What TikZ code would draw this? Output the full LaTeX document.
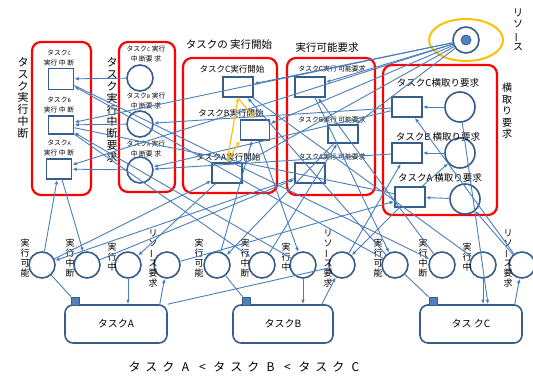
\documentclass[tikz,border=0pt]{standalone}
\usepackage{fontspec}
\setmainfont{Noto Sans CJK JP}
\usetikzlibrary{arrows.meta}
\definecolor{lnblue}{RGB}{74,126,187}
\definecolor{ndblue}{RGB}{56,93,138}
\definecolor{dotblue}{RGB}{79,129,189}
\definecolor{orng}{RGB}{255,192,0}
\newcommand{\myvbar}{\rotatebox[origin=c]{90}{ー}}
\newcommand{\ochar}[1]{\makebox[17pt]{#1}}
\begin{document}
\begin{tikzpicture}[x=1pt,y=-1pt,
  grp/.style={draw=red,line width=2.2pt,rounded corners=9pt},
  sq/.style={draw=ndblue,line width=1.6pt,minimum width=30pt,minimum height=20pt,inner sep=0pt},
  pl/.style={circle,draw=ndblue,line width=1.6pt,minimum size=26pt,inner sep=0pt},
  bigpl/.style={circle,draw=ndblue,line width=1.6pt,minimum size=30pt,inner sep=0pt},
  task/.style={draw=ndblue,line width=1.6pt,rounded corners=8pt,minimum width=102pt,minimum height=38pt,font=\fontsize{10}{12}\selectfont},
  smsq/.style={draw=ndblue,fill=dotblue,line width=0.8pt,minimum width=8pt,minimum height=8pt,inner sep=0pt},
  arc/.style={draw=lnblue,line width=0.9pt,-{Latex[length=4.5pt,width=3.6pt]}},
  ln/.style={draw=lnblue,line width=0.9pt},
  oarc/.style={draw=orng,line width=1.1pt,-{Latex[length=4.5pt,width=3.6pt]}},
  lblS/.style={font=\fontsize{6.8}{9.5}\selectfont,inner sep=0pt,align=center},
  lblM/.style={font=\fontsize{8.5}{10}\selectfont,inner sep=0pt,align=center},
  lblL/.style={font=\fontsize{9.5}{11}\selectfont,inner sep=0pt,align=center},
  ttl/.style={font=\fontsize{10.5}{12}\selectfont,inner sep=0pt,align=center},
  vbig/.style={font=\fontsize{11}{11.9}\selectfont,inner sep=0pt,align=center},
  vmid/.style={font=\fontsize{10}{11.5}\selectfont,inner sep=0pt,align=center},
  vsm/.style={font=\fontsize{9}{10}\selectfont,inner sep=0pt,align=center}
]
\useasboundingbox (0,0) rectangle (533,378);

% groups
\draw[grp] (32,42) rectangle (91,195);
\draw[grp] (119,42) rectangle (175,192);
\draw[grp] (183,58) rectangle (277,193);
\draw[grp] (287,58) rectangle (375,195);
\draw[grp] (383,65) rectangle (497,215);
\draw[draw=orng,line width=2pt] (466,40) ellipse (37pt and 21pt);

% group labels
\node[vbig] (g1t) at (23,98) {タ\\ス\\ク\\実\\行\\中\\断};
\node[vbig] (g2t) at (112,110) {タ\\ス\\ク\\実\\行\\中\\断\\要\\求};
\node[ttl] (g3t) at (229,45) {タスクの 実行開始};
\node[ttl] (g4t) at (327,48) {実行可能要求};
\node[vmid] (g5t) at (507,111) {横\\取\\り\\要\\求};
\node[vmid] (rest) at (518,30) {リ\\ソ\\\myvbar\\ス};

% group 1 : suspend transitions
\node[sq,minimum width=25pt,minimum height=21pt] (s1C) at (61,79) {};
\node[sq,minimum width=25pt,minimum height=18pt] (s1B) at (61,125) {};
\node[sq,minimum width=25pt,minimum height=20pt] (s1A) at (59,169) {};
\node[lblS] (l1C) at (59,58) {タスク{\tiny C}\\実行 中 断};
\node[lblS] (l1B) at (59,105) {タスク{\tiny B}\\実行 中 断};
\node[lblS] (l1A) at (59,148) {タスク{\tiny A}\\実行 中 断};

% group 2 : suspend request places
\node[pl] (p2C) at (140,78) {};
\node[pl] (p2B) at (140,124) {};
\node[pl] (p2A) at (140,170) {};
\node[lblS] (l2C) at (146,54) {タスク{\tiny C} 実行\\中 断要 求};
\node[lblS] (l2B) at (146,101) {タスク{\tiny B} 実行\\中 断要 求};
\node[lblS] (l2A) at (146,149) {タスク{\tiny A} 実行\\中 断要 求};

% group 3 : start transitions
\node[sq] (sC) at (238,87) {};
\node[sq,minimum width=29pt] (sB) at (255,130) {};
\node[sq] (sA) at (227,173) {};
\node[lblM] (l3C) at (232,69) {タスクC実行開始};
\node[lblM] (l3B) at (231,113) {タスクB実行開始};
\node[lblM] (l3A) at (228,157) {タスクA実行開始};

% group 4 : ready request transitions
\node[sq] (rC) at (310,87) {};
\node[sq,minimum height=18pt] (rB) at (343,134) {};
\node[sq] (rA) at (310,173) {};
\node[lblS] (l4C) at (332,69) {タスクC実行 可能要求};
\node[lblS] (l4B) at (332,120) {タスクB実行 可能要求};
\node[lblS] (l4A) at (332,157) {タスクA実行 可能要求};

% group 5 : preemption request
\node[sq] (xC) at (407,107) {};
\node[sq] (xB) at (407,153) {};
\node[sq] (xA) at (410,197) {};
\node[bigpl] (cC) at (460,107) {};
\node[bigpl] (cB) at (460,153) {};
\node[bigpl] (cA) at (465,199) {};
\node[lblL] (l5C) at (438,83) {タスクC横取り要求};
\node[lblL] (l5B) at (438,137) {タスクB 横取り要求};
\node[lblL] (l5A) at (440,178) {タスクA 横取り要求};

% resource
\node[pl] (res) at (466,40) {};
\fill[dotblue] (res.center) circle (5pt);
\draw[ndblue,line width=0.8pt] (res.center) circle (5pt);

% bottom places
\foreach \t/\x in {A/42,B/217,C/395}{
  \node[pl] (rdy\t) at (\x,265) {};}
\foreach \t/\x in {A/87,B/262,C/442}{
  \node[pl] (sus\t) at (\x,265) {};}
\foreach \t/\x in {A/128,B/303,C/483}{
  \node[pl] (run\t) at (\x,265) {};}
\foreach \t/\x in {A/167,B/342,C/522}{
  \node[pl] (req\t) at (\x,265) {};}
\foreach \t/\x in {A/25,B/199,C/378}{
  \node[vsm] (lr\t) at (\x,258) {実\\行\\可\\能};}
\foreach \t/\x in {A/70,B/245,C/423}{
  \node[vsm] (ls\t) at (\x,258) {実\\行\\中\\断};}
\foreach \t/\x in {A/112,B/286,C/467}{
  \node[vsm] (lu\t) at (\x,257) {実\\行\\中};}
\foreach \t/\x in {A/153,B/328,C/508}{
  \node[vsm] (lq\t) at (\x,258) {リ\\ソ\\\myvbar\\ス\\要\\求};}

% tasks
\node[task] (taskA) at (116,324) {タスクA};
\node[task,minimum width=100pt] (taskB) at (283,324) {タスクB};
\node[task] (taskC) at (471,324) {タス クC};
\node[smsq] (mA) at (75,301) {};
\node[smsq] (mB) at (246,301) {};
\node[smsq] (mC) at (433,301) {};

\node[font=\fontsize{12}{14}\selectfont,inner sep=0pt] (order) at (245,367)
  {\ochar{タ}\ochar{ス}\ochar{ク}\ochar{A}\ochar{<}\ochar{タ}\ochar{ス}\ochar{ク}\ochar{B}\ochar{<}\ochar{タ}\ochar{ス}\ochar{ク}\ochar{C}};

% ---- arcs ----
\foreach \t in {A,B,C}{
  \draw[arc] (rdy\t) -- (s\t);
  \draw[arc] (s\t) -- (run\t);
  \draw[arc] (s1\t) -- (sus\t);
  \draw[arc] (sus\t) -- (r\t);
  \draw[arc] (r\t) -- (rdy\t);
  \draw[arc] (req\t) -- (x\t);
  \draw[arc] (p2\t) -- (s1\t);
  \draw[arc] (c\t) -- (x\t);
  \draw[ln] (rdy\t) -- (m\t);
  \draw[arc] (run\t) -- (task\t.north -| run\t);
  \draw[arc] (res) -- (s\t);
}
\draw[arc] (taskA.north east) ++(-8,0) -- (reqA);
\draw[arc] (taskB.north east) ++(-12,0) -- (reqB);
\draw[arc] (taskC.north east) ++(-8,0) -- (reqC);
\draw[arc] (rdyA) -- (s1A);
\draw[arc] (rdyC) -- (s1C);
\draw[arc] (runB) -- (s1B);
\draw[arc] (res) -- (s1B);
\draw[arc] (res) -- (s1A);
\draw[arc] (res) -- (rC);
\draw[arc] (res) -- (rB);
\draw[arc] (xC) -- (p2B);
\draw[arc] (xC) -- (p2A);
\draw[arc] (xB) -- (p2A);
\draw[arc] (xA) -- (cB);
\draw[arc] (reqC) -- (cA);
\draw[ln] (s1B) -- (xA);
\draw[arc] (xA) -- (reqB);
\draw[ln] (taskA.north east) -- (reqB);
\draw[arc] (cC) -- (taskC.north -| 488,0);

% orange
\draw[oarc] (sA.north) -- (sC.south);
\draw[oarc] (sC.south) -- (sB.north);
\draw[oarc] (sA.north) -- (sB.south west);
\end{tikzpicture}
\end{document}
